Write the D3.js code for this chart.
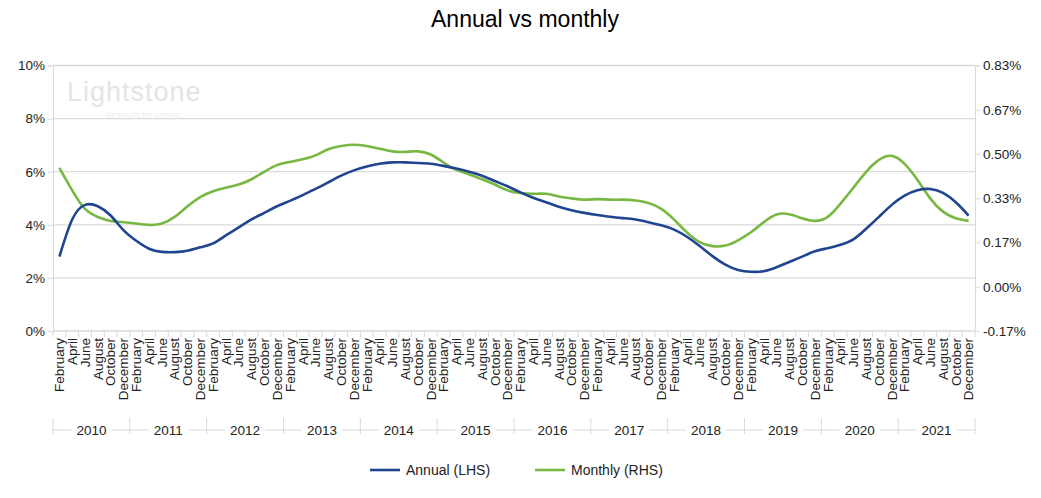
<!DOCTYPE html>
<html><head><meta charset="utf-8">
<script src="https://cdn.jsdelivr.net/npm/d3@7"></script>
<style>body{margin:0;background:#fff;font-family:"Liberation Sans",Arial,sans-serif}</style>
</head><body><svg id="c" width="1041" height="498"></svg>
<script>
const years = ["2010","2011","2012","2013","2014","2015","2016","2017","2018","2019","2020","2021"];
const months = ["February","April","June","August","October","December"];
const annual = [
2.8,4.2,4.75,4.7,4.35,3.8,
3.4,3.1,2.98,2.97,3.02,3.15,
3.3,3.6,3.9,4.2,4.45,4.7,
4.9,5.12,5.35,5.6,5.85,6.05,
6.2,6.3,6.35,6.35,6.33,6.3,
6.22,6.12,6.0,5.85,5.65,5.45,
5.22,5.02,4.85,4.68,4.55,4.45,
4.37,4.3,4.25,4.2,4.1,3.98,
3.82,3.55,3.2,2.82,2.5,2.3,
2.23,2.25,2.4,2.6,2.8,3.0,
3.12,3.25,3.45,3.85,4.3,4.75,
5.1,5.3,5.35,5.2,4.85,4.35];
const monthly = [
.448,.363,.293,.263,.248,.243,
.238,.233,.238,.263,.303,.338,
.360,.373,.385,.405,.433,.458,
.470,.480,.495,.518,.530,.535,
.530,.520,.510,.508,.510,.498,
.468,.440,.423,.405,.385,.363,
.353,.350,.350,.340,.333,.328,
.330,.328,.328,.325,.315,.293,
.253,.205,.168,.153,.155,.175,
.205,.243,.272,.273,.258,.248,
.263,.313,.373,.433,.478,.493,
.463,.403,.333,.283,.258,.248];
const leftTicks = [0,2,4,6,8,10];
const rightTicks = [-1/6,0,1/6,2/6,3/6,4/6,5/6];

const svg = d3.select("#c");
const L=53,R=975,T=65.5,B=331;
const cats = [];
years.forEach(y=>months.forEach(m=>cats.push(y+"-"+m)));
const x = d3.scaleBand().domain(cats).range([L,R]);
const yL = d3.scaleLinear().domain([0,10]).range([B,T]);
const yR = d3.scaleLinear().domain([-1/6,5/6]).range([B,T]);
const cx = i=>x(cats[i])+x.bandwidth()/2;
const FS=13.5;

svg.append("text").attr("x",67).attr("y",101).attr("font-size",27).attr("fill","#e4e4e4").attr("letter-spacing",1).text("Lightstone");
svg.append("text").attr("x",105).attr("y",117).attr("font-size",7).attr("fill","#ececec").text("We simplify the complex");

svg.append("g").selectAll("line").data(leftTicks.slice(1)).join("line")
 .attr("x1",L).attr("x2",R).attr("y1",d=>yL(d)).attr("y2",d=>yL(d))
 .attr("stroke","#d9d9d9").attr("stroke-width",1.3);

const ga = svg.append("g").attr("transform",`translate(${L},0)`)
 .call(d3.axisLeft(yL).tickValues(leftTicks).tickFormat(d=>d+"%").tickSize(5));
ga.select(".domain").attr("stroke","#d9d9d9");
ga.selectAll(".tick line").attr("stroke","#d9d9d9");
ga.selectAll("text").attr("font-size",FS).attr("fill","#222").attr("font-family","Liberation Sans, Arial");
const gr = svg.append("g").attr("transform",`translate(${R},0)`)
 .call(d3.axisRight(yR).tickValues(rightTicks).tickFormat(d=>d3.format(".2f")(d).replace("−","-")+"%").tickSize(5));
gr.select(".domain").attr("stroke","#d9d9d9");
gr.selectAll(".tick line").attr("stroke","#d9d9d9");
gr.selectAll("text").attr("font-size",FS).attr("fill","#222").attr("font-family","Liberation Sans, Arial");

svg.append("line").attr("x1",L).attr("x2",R).attr("y1",B).attr("y2",B).attr("stroke","#d9d9d9").attr("stroke-width",1.3);
svg.append("g").selectAll("line").data(cats.concat(["end"])).join("line")
 .attr("x1",(d,i)=>L+i*x.bandwidth()).attr("x2",(d,i)=>L+i*x.bandwidth())
 .attr("y1",B).attr("y2",B+6).attr("stroke","#d9d9d9");
svg.append("g").selectAll("text").data(cats).join("text")
 .attr("transform",(d,i)=>`translate(${cx(i)+4.8},${B+7}) rotate(-90)`)
 .attr("text-anchor","end").attr("font-size",FS).attr("fill","#222")
 .text(d=>d.split("-")[1]);
const yrY=430;
years.forEach((yv,k)=>{
 const x0=L+k*6*x.bandwidth(), x1=L+(k+1)*6*x.bandwidth();
 const mid=(x0+x1)/2;
 svg.append("line").attr("x1",x0).attr("x2",x1).attr("y1",yrY).attr("y2",yrY).attr("stroke","#d9d9d9");
 svg.append("line").attr("x1",x0).attr("x2",x0).attr("y1",yrY-12).attr("y2",yrY+4).attr("stroke","#d9d9d9");
 svg.append("rect").attr("x",mid-20).attr("y",yrY-8).attr("width",40).attr("height",16).attr("fill","#fff");
 svg.append("text").attr("x",mid).attr("y",yrY+5).attr("text-anchor","middle").attr("font-size",FS).attr("fill","#222").text(yv);
});
svg.append("line").attr("x1",R).attr("x2",R).attr("y1",yrY-12).attr("y2",yrY+4).attr("stroke","#d9d9d9");

const lineA = d3.line().x((d,i)=>cx(i)).y(d=>yL(d)).curve(d3.curveNatural);
const lineM = d3.line().x((d,i)=>cx(i)).y(d=>yR(d)).curve(d3.curveNatural);
svg.append("path").attr("d",lineM(monthly)).attr("fill","none").attr("stroke","#77b843").attr("stroke-width",2.6);
svg.append("path").attr("d",lineA(annual)).attr("fill","none").attr("stroke","#1f4591").attr("stroke-width",2.6);

svg.append("text").attr("x",525).attr("y",27).attr("text-anchor","middle").attr("font-size",23).attr("fill","#000").text("Annual vs monthly");

const lg=[["Annual (LHS)","#1f4591",370],["Monthly (RHS)","#77b843",535]];
lg.forEach(([t,c,lx])=>{
 svg.append("line").attr("x1",lx).attr("x2",lx+30).attr("y1",470).attr("y2",470).attr("stroke",c).attr("stroke-width",2.6);
 svg.append("text").attr("x",lx+36).attr("y",475).attr("font-size",14).attr("fill","#222").text(t);
});
</script></body></html>
